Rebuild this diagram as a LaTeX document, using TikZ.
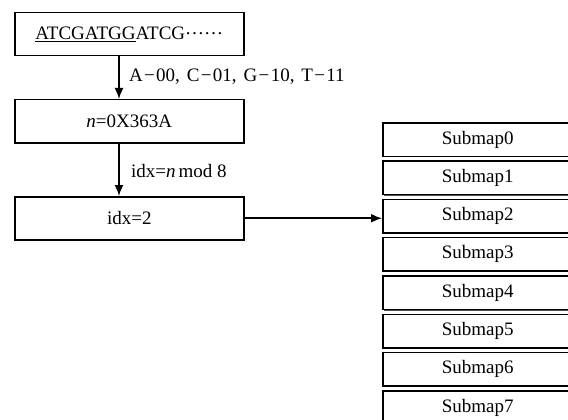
\documentclass[tikz,border=0pt]{standalone}
\usepackage{fontspec}
\setmainfont{Liberation Serif}
\usetikzlibrary{arrows.meta,calc}
% short minus with a little room on each side, wide gap after commas
\newcommand{\dashsym}{\kern1.3pt\char"2212\kern1.3pt}
\newcommand{\sepgap}{,\hspace{7pt}}
\begin{document}
\begin{tikzpicture}[x=1pt,y=-1pt,
  every node/.style={font=\fontsize{19}{22}\selectfont},
  flowbox/.style={draw,line width=1.5pt,minimum width=229pt,minimum height=43pt,
    anchor=north west,inner sep=0pt},
  mapbox/.style={draw,line width=1.5pt,minimum width=190pt,minimum height=33.5pt,
    anchor=north west,inner sep=0pt,fill=white},
  flow/.style={line width=1.6pt,-{Latex[length=11pt,width=9pt]}},
  lbl/.style={anchor=west,inner sep=0pt}]
\useasboundingbox (0,0) rectangle (568,420);

% processing chain on the left
\node[flowbox] (seq) at (14,12)
  {\underline{ATCGATGG}ATCG\raisebox{0.26em}{\dots\dots}};
\node[flowbox] (num) at (14,99) {\textit{n}=0X363A};
\node[flowbox] (idx) at (14,196) {idx=2};

\coordinate (s1) at (119,55);
\coordinate (s2) at (119,142);
\draw[flow] (seq.south -| s1) -- (num.north -| s1);
\draw[flow] (num.south -| s2) -- (idx.north -| s2);
\node[lbl] (enc) at (129,77)
  {A\dashsym 00\sepgap C\dashsym 01\sepgap G\dashsym 10\sepgap T\dashsym 11};
\node[lbl] (mod) at (131,171) {idx=\textit{n}\hspace{3pt}mod 8};

% submap table on the right
\foreach \k in {0,...,7}{
  \fill[black!70] ($(382,122)+(1.6,1.8)+(0,38.3*\k)$) rectangle ++(190,33.5);
  \node[mapbox] (sub\k) at ($(382,122)+(0,38.3*\k)$) {Submap\k};
}

\draw[flow] (idx.east) -- (idx.east -| sub2.west);
\end{tikzpicture}
\end{document}
